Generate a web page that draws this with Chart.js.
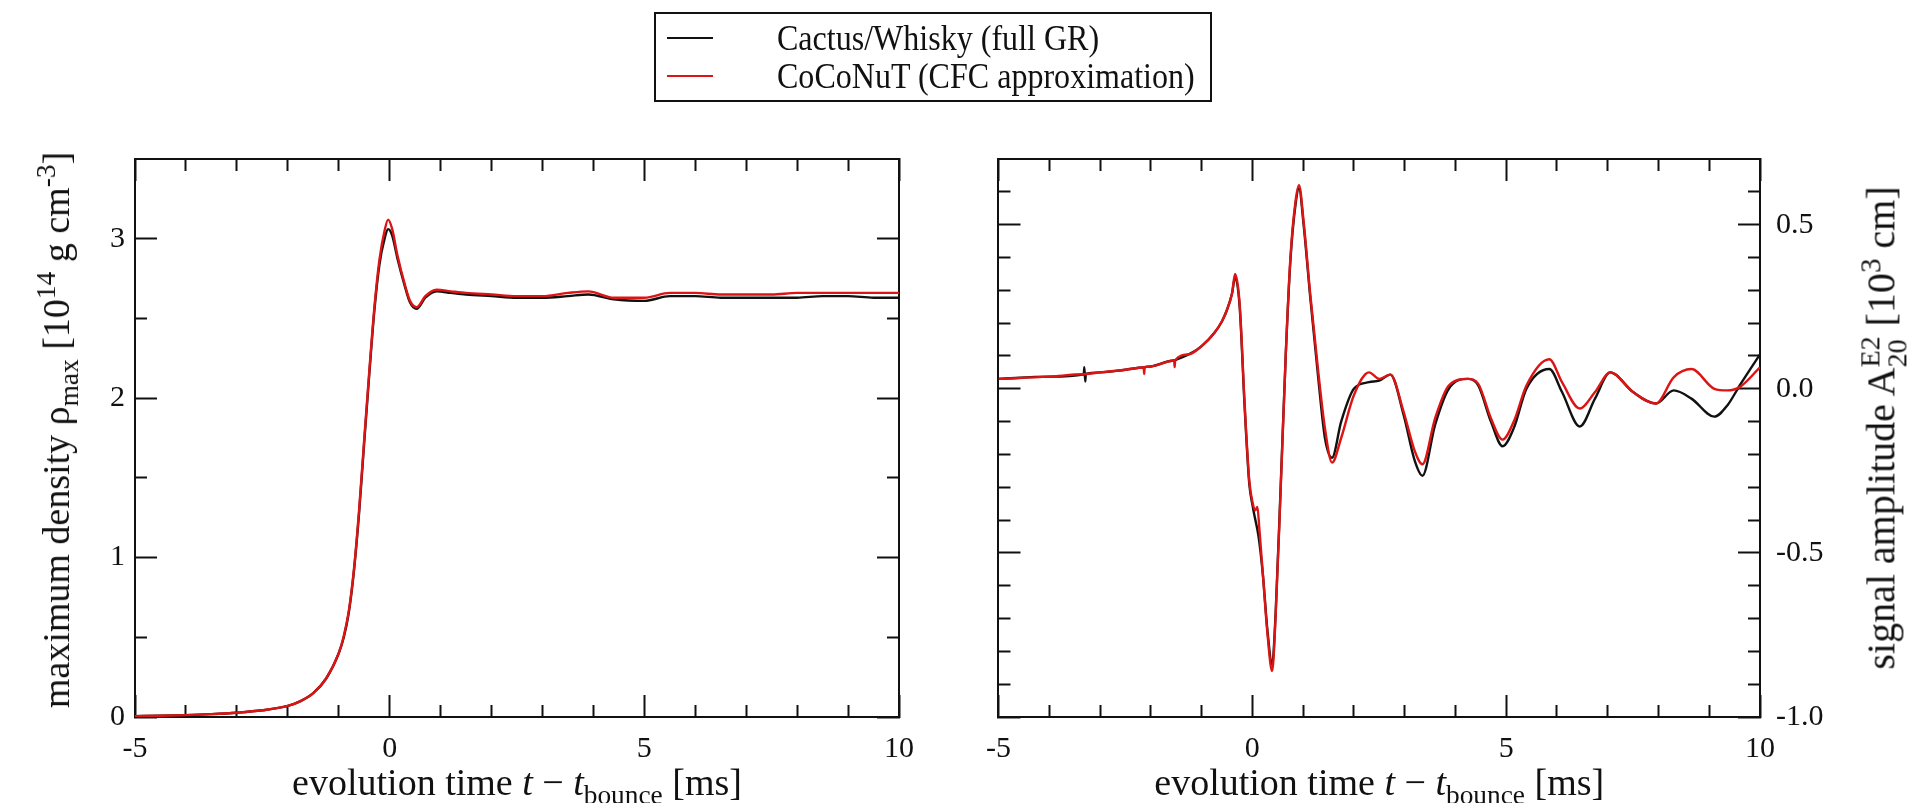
<!DOCTYPE html>
<html>
<head>
<meta charset="utf-8">
<script src="https://cdn.jsdelivr.net/npm/chart.js@4.4.1/dist/chart.umd.min.js"></script>
<style>
  body { margin: 0; background: #fff; width: 1910px; height: 803px; overflow: hidden; position: relative; font-family: "Liberation Serif", serif; color: #111; }
  canvas { position: absolute; top: 0; }
  #leftChart { left: 0; }
  #rightChart { left: 950px; }
  .title { position: absolute; white-space: nowrap; font-size: 38px; line-height: 1; transform: translate(-50%, -50%); }
  .title.vert { transform: translate(-50%, -50%) rotate(-90deg); }
  #yTitleRight { font-size: 40px; }
  .title sub, .title sup { font-size: 0.72em; line-height: 0; }
  .ss { display: inline-block; font-size: 0.7em; line-height: 0.95; vertical-align: -0.4em; }
  .ss span { display: block; }
  #legend { position: absolute; left: 654px; top: 12px; width: 554px; height: 86px; border: 2px solid #111; }
  #legend .row { position: absolute; left: 0; height: 36px; line-height: 36px; white-space: nowrap; font-size: 36px; }
  #legend .swatch { position: absolute; left: 11px; top: 17px; width: 46px; height: 2px; }
  #legend .txt { position: absolute; left: 121px; top: 0; transform: scaleX(0.89); transform-origin: left center; }
</style>
</head>
<body>
<canvas id="leftChart" width="950" height="803"></canvas>
<canvas id="rightChart" width="960" height="803"></canvas>
<div id="legend"></div>
<div class="title" id="xTitleLeft">evolution time <i>t</i> − <i>t</i><sub>bounce</sub> [ms]</div>
<div class="title" id="xTitleRight">evolution time <i>t</i> − <i>t</i><sub>bounce</sub> [ms]</div>
<div class="title vert" id="yTitleLeft">maximum density ρ<sub>max</sub> [10<sup>14</sup> g cm<sup>-3</sup>]</div>
<div class="title vert" id="yTitleRight">signal amplitude A<span class="ss"><span>E2</span><span>20</span></span> [10<sup>3</sup> cm]</div>
<script>
// left panel: maximum density
const rhoTime = [-5, -4.5, -4, -3.5, -3, -2.5, -2, -1.75, -1.5, -1.25, -1, -0.9, -0.8, -0.7, -0.6, -0.5, -0.4, -0.3, -0.2, -0.1,
  -0.03, 0.05, 0.15, 0.3, 0.4, 0.53, 0.7, 0.92, 1.2, 1.5, 2, 2.5, 3, 3.5, 3.9, 4.4, 5, 5.5, 6, 6.5, 7, 7.5, 8, 8.5, 9, 9.5, 10];
const rhoCactus = [0.005, 0.008, 0.012, 0.018, 0.027, 0.042, 0.07, 0.10, 0.15, 0.24, 0.40, 0.50, 0.66, 0.92, 1.28, 1.72, 2.15, 2.55, 2.84, 3.0,
  3.06, 3.02, 2.88, 2.7, 2.6, 2.56, 2.63, 2.67, 2.66, 2.65, 2.64, 2.63, 2.63, 2.64, 2.65, 2.62, 2.61, 2.64, 2.64, 2.63, 2.63, 2.63, 2.63, 2.64, 2.64, 2.63, 2.63];
const rhoCoconut = [0.005, 0.008, 0.012, 0.018, 0.027, 0.042, 0.07, 0.10, 0.15, 0.24, 0.40, 0.51, 0.67, 0.93, 1.3, 1.74, 2.17, 2.57, 2.87, 3.05,
  3.12, 3.06, 2.9, 2.71, 2.61, 2.57, 2.64, 2.68, 2.67, 2.66, 2.65, 2.64, 2.64, 2.66, 2.67, 2.63, 2.63, 2.66, 2.66, 2.65, 2.65, 2.65, 2.66, 2.66, 2.66, 2.66, 2.66];

// right panel: signal amplitude
const ampTime = [-5, -4, -3.32, -3.31, -3.29, -3.28, -3, -2.5, -2.14, -2.13, -2.12, -2, -1.54, -1.53, -1.52, -1.25, -1, -0.75, -0.6, -0.5,
  -0.4, -0.34, -0.25, -0.15, -0.06, 0.01, 0.06, 0.1, 0.14, 0.21, 0.3, 0.39, 0.46, 0.56, 0.66, 0.75, 0.85, 0.92, 1.01, 1.14,
  1.3, 1.43, 1.57, 1.75, 2, 2.3, 2.5, 2.72, 2.98, 3.2, 3.35, 3.6, 3.87, 4.25, 4.45, 4.7, 4.93, 5.15, 5.4, 5.85,
  6.1, 6.45, 6.75, 7.05, 7.5, 7.95, 8.3, 8.65, 9.1, 9.36, 9.6, 10];
const ampCactus = [0.03, 0.037, 0.044, 0.066, 0.022, 0.045, 0.05, 0.058, 0.065, 0.065, 0.066, 0.068, 0.086, 0.086, 0.087, 0.105, 0.13, 0.17, 0.205, 0.24,
  0.29, 0.34, 0.25, -0.06, -0.29, -0.36, -0.40, -0.43, -0.47, -0.57, -0.74, -0.84, -0.68, -0.29, 0.11, 0.39, 0.56, 0.61, 0.50, 0.28,
  0.03, -0.15, -0.21, -0.10, 0.0, 0.02, 0.025, 0.043, -0.08, -0.22, -0.265, -0.11, 0.0, 0.03, 0.01, -0.10, -0.175, -0.12, 0.0, 0.06,
  -0.01, -0.115, -0.03, 0.05, -0.01, -0.045, -0.005, -0.03, -0.085, -0.05, 0.01, 0.105];
const ampCoconut = [0.03, 0.037, 0.044, 0.044, 0.045, 0.045, 0.05, 0.058, 0.065, 0.045, 0.066, 0.068, 0.086, 0.066, 0.087, 0.105, 0.13, 0.17, 0.205, 0.24,
  0.29, 0.35, 0.26, -0.05, -0.28, -0.35, -0.37, -0.36, -0.43, -0.57, -0.75, -0.86, -0.69, -0.30, 0.11, 0.40, 0.57, 0.62, 0.51, 0.29,
  0.05, -0.12, -0.225, -0.15, -0.02, 0.05, 0.03, 0.043, -0.07, -0.19, -0.23, -0.09, 0.01, 0.03, 0.015, -0.09, -0.155, -0.10, 0.01, 0.09,
  0.02, -0.06, -0.01, 0.05, -0.01, -0.045, 0.035, 0.06, 0.0, -0.005, 0.005, 0.065];

const timeTicks = [-5, 0, 5, 10];
const timeMinorTicks = [-4, -3, -2, -1, 1, 2, 3, 4, 6, 7, 8, 9];
const rhoTicks = [0, 1, 2, 3];
const rhoMinorTicks = [0.5, 1.5, 2.5];
const ampTicks = [-1.0, -0.5, 0.0, 0.5];
const ampMinorTicks = [-0.9, -0.8, -0.7, -0.6, -0.4, -0.3, -0.2, -0.1, 0.1, 0.2, 0.3, 0.4, 0.6];

const seriesNames = ['Cactus/Whisky (full GR)', 'CoCoNuT (CFC approximation)'];
const seriesColors = ['#111111', '#dd1414'];

const tickFont = {family: 'Liberation Serif', size: 30};

function points(xs, ys) {
    return xs.map((x, i) => ({x: x, y: ys[i]}));
}

// one axis = one set of inward tick marks; majors and minors are separate axes.
// labelled axes get a real box (labels are clipped to it), the rest are zero sized
function axis(position, min, max, values, major, labelSize, pad, fmt) {
    return {
        type: 'linear',
        position: position,
        min: min,
        max: max,
        weight: major ? 1 : 0,
        afterBuildTicks: s => { s.ticks = values.map(v => ({value: v})) },
        afterFit: s => { if (s.isHorizontal()) s.height = labelSize; else s.width = labelSize },
        border: {display: major, color: '#111', width: 2},
        grid: {display: true, drawOnChartArea: false, drawTicks: true,
            tickLength: major ? -22 : -12, tickWidth: 2, tickColor: '#111'},
        ticks: {display: labelSize > 0, padding: pad, font: tickFont, color: '#111',
            callback: fmt || (v => v)}
    };
}

function makePanel(id, time, cactus, coconut, yMin, yMax, yTicks, yMinor, labelsRight, fmt, padding) {
    const scales = {
        x: axis('bottom', -5, 10, timeTicks, true, 60, 36),
        xMinor: axis('bottom', -5, 10, timeMinorTicks, false, 0, 0),
        xTop: axis('top', -5, 10, timeTicks, true, 0, 0),
        xTopMinor: axis('top', -5, 10, timeMinorTicks, false, 0, 0),
        y: axis('left', yMin, yMax, yTicks, true, labelsRight ? 0 : 100, 32, fmt),
        yMinor: axis('left', yMin, yMax, yMinor, false, 0, 0),
        yRight: axis('right', yMin, yMax, yTicks, true, labelsRight ? 100 : 0, 38, fmt),
        yRightMinor: axis('right', yMin, yMax, yMinor, false, 0, 0)
    };
    return new Chart(document.getElementById(id), {
        type: 'line',
        data: {
            datasets: [{
                label: seriesNames[0],
                data: points(time, cactus),
                borderColor: seriesColors[0],
                borderWidth: 2.4,
                pointRadius: 0,
                cubicInterpolationMode: 'monotone',
                order: 1
            }, {
                label: seriesNames[1],
                data: points(time, coconut),
                borderColor: seriesColors[1],
                borderWidth: 2.4,
                pointRadius: 0,
                cubicInterpolationMode: 'monotone',
                order: 0
            }]
        },
        options: {
            responsive: false,
            animation: false,
            events: [],
            layout: {padding: padding},
            plugins: {legend: {display: false}, tooltip: {enabled: false}},
            scales: scales
        }
    });
}

const leftChart = makePanel('leftChart', rhoTime, rhoCactus, rhoCoconut, 0, 3.5, rhoTicks, rhoMinorTicks, false,
    null, {left: 35, right: 28, top: 159, bottom: 26});
const rightChart = makePanel('rightChart', ampTime, ampCactus, ampCoconut, -1.0, 0.7, ampTicks, ampMinorTicks, true,
    v => v.toFixed(1), {left: 27, right: 50, top: 159, bottom: 26});

// shared legend
const legend = document.getElementById('legend');
seriesNames.forEach((name, i) => {
    const row = document.createElement('div');
    row.className = 'row';
    row.style.top = (i === 0 ? 6 : 44) + 'px';
    row.innerHTML = '<span class="swatch" style="background:' + seriesColors[i] + '"></span><span class="txt">' + name + '</span>';
    legend.appendChild(row);
});

function place(id, x, y) {
    const el = document.getElementById(id);
    el.style.left = x + 'px';
    el.style.top = y + 'px';
}
const la = leftChart.chartArea;
const ra = rightChart.chartArea;
place('xTitleLeft', (la.left + la.right) / 2, 782);
place('xTitleRight', 950 + (ra.left + ra.right) / 2, 782);
place('yTitleLeft', 56, 430);
place('yTitleRight', 1884, 428);
</script>
</body>
</html>
